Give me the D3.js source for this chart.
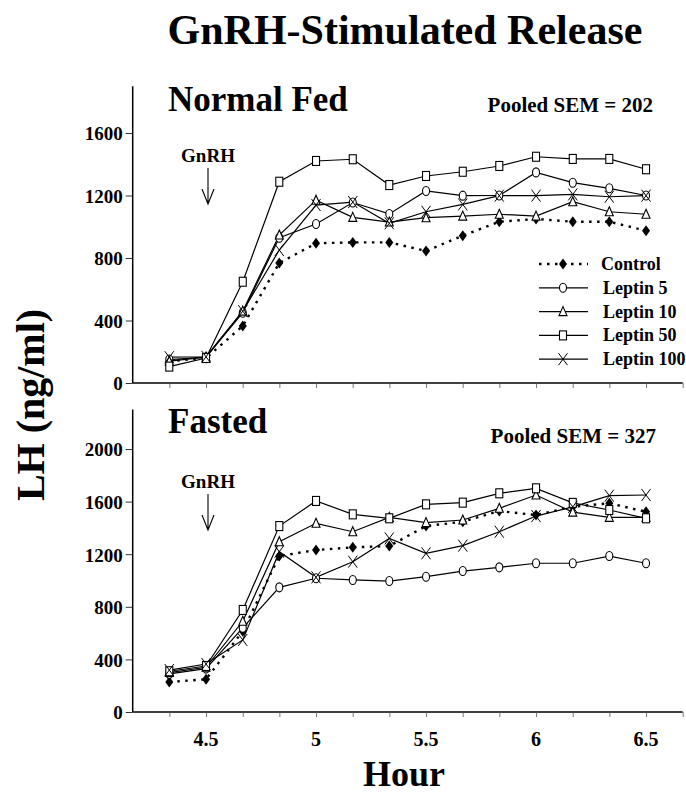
<!DOCTYPE html>
<html>
<head>
<meta charset="utf-8">
<script src="https://cdn.jsdelivr.net/npm/d3@7"></script>
<style>
  body { margin: 0; background: #fff; }
  text { font-family: "Liberation Serif", "Times New Roman", serif; font-weight: bold; fill: #000; }
</style>
</head>
<body>
<div id="chart"></div>
<script>
// sampling times (hours)
const hours = [4.333, 4.5, 4.667, 4.833, 5, 5.167, 5.333, 5.5, 5.667, 5.833, 6, 6.167, 6.333, 6.5];
const hourTicks = [4.5, 5, 5.5, 6, 6.5];
const seriesNames = ["Control", "Leptin 5", "Leptin 10", "Leptin 50", "Leptin 100"];

// Normal fed, LH ng/ml
const fedControl = [140, 160, 365, 768, 894, 900, 900, 845, 943, 1032, 1050, 1032, 1032, 975];
const fedLep5    = [150, 165, 450, 930, 1018, 1155, 1082, 1229, 1199, 1200, 1348, 1282, 1246, 1200];
const fedLep10   = [140, 165, 460, 947, 1170, 1060, 1030, 1058, 1068, 1080, 1068, 1160, 1096, 1080];
const fedLep50   = [105, 160, 648, 1288, 1421, 1432, 1267, 1325, 1352, 1389, 1448, 1434, 1434, 1368];
const fedLep100  = [165, 168, 460, 851, 1139, 1158, 1022, 1096, 1143, 1199, 1199, 1207, 1192, 1199];
const fedTicks = [0, 400, 800, 1200, 1600];

// Fasted, LH ng/ml
const fastControl = [228, 249, 615, 1186, 1232, 1252, 1262, 1414, 1447, 1528, 1498, 1561, 1587, 1523];
const fastLep5    = [290, 330, 640, 948, 1017, 1004, 996, 1029, 1072, 1100, 1131, 1131, 1186, 1131];
const fastLep10   = [300, 340, 690, 1295, 1435, 1371, 1480, 1440, 1460, 1549, 1650, 1520, 1480, 1480];
const fastLep50   = [310, 350, 776, 1414, 1605, 1503, 1473, 1579, 1592, 1663, 1701, 1590, 1536, 1473];
const fastLep100  = [319, 365, 548, 1219, 1024, 1143, 1320, 1207, 1265, 1371, 1490, 1560, 1645, 1650];
const fastTicks = [0, 400, 800, 1200, 1600, 2000];

const W = 686, H = 793;
const svg = d3.select("#chart").append("svg").attr("width", W).attr("height", H);

const x = d3.scaleLinear().domain([25 / 6, 40 / 6]).range([132.7, 682.7]);
const minorTicks = d3.range(26, 41).map(d => d / 6);

const markerTypes = ["diamond", "circle", "triangle", "square", "x"];

function drawMarker(g, type, cx, cy) {
    if (type == "diamond") {
        g.append("path").attr("d", `M${cx},${cy - 5.5}L${cx + 4},${cy}L${cx},${cy + 5.5}L${cx - 4},${cy}Z`)
            .attr("fill", "#000");
    } else if (type == "circle") {
        g.append("ellipse").attr("cx", cx).attr("cy", cy).attr("rx", 3.5).attr("ry", 4.5)
            .attr("fill", "#fff").attr("stroke", "#000").attr("stroke-width", 1.1);
    } else if (type == "triangle") {
        g.append("path").attr("d", `M${cx},${cy - 5}L${cx + 4},${cy + 4}L${cx - 4},${cy + 4}Z`)
            .attr("fill", "#fff").attr("stroke", "#000").attr("stroke-width", 1.1);
    } else if (type == "square") {
        g.append("rect").attr("x", cx - 3.5).attr("y", cy - 4.5).attr("width", 7).attr("height", 9)
            .attr("fill", "#fff").attr("stroke", "#000").attr("stroke-width", 1.1);
    } else {
        g.append("path").attr("d", `M${cx - 4.5},${cy - 6}L${cx + 4.5},${cy + 6}M${cx + 4.5},${cy - 6}L${cx - 4.5},${cy + 6}`)
            .attr("stroke", "#000").attr("stroke-width", 1);
    }
}

function lineStyle(sel, i) {
    sel.attr("fill", "none").attr("stroke", "#000");
    if (i == 0) sel.attr("stroke-width", 2.4).attr("stroke-dasharray", "2.5,5.5");
    else sel.attr("stroke-width", 1.2);
}

function drawPanel(p) {
    const y = d3.scaleLinear().domain([0, p.ymax]).range([p.y0, p.y0 - p.ymax * p.k]);
    const g = svg.append("g");

    // axes
    g.append("g").attr("transform", `translate(${x.range()[0]},0)`)
        .call(d3.axisLeft(y).tickValues(p.ticks).tickSize(7).tickFormat(d3.format("d")))
        .call(a => a.select(".domain").attr("stroke-width", 1.5).attr("d", `M-0,${p.y0}V${y.range()[1]}`))
        .call(a => a.selectAll(".tick line").attr("stroke-width", 0.8))
        .call(a => a.selectAll(".tick text").attr("x", -10).attr("dy", "0.36em")
            .style("font-size", "19px").style("font-family", "Liberation Serif").style("font-weight", "bold"));

    g.append("g").attr("transform", `translate(0,${p.y0})`)
        .call(d3.axisBottom(x).tickValues(minorTicks).tickSize(5).tickFormat(""))
        .call(a => a.select(".domain").attr("stroke-width", 1.5).attr("d", `M${x.range()[0]},0H${x.range()[1]}`))
        .call(a => a.selectAll(".tick line").attr("stroke", "#555").attr("stroke-width", 0.8));

    if (p.labels) {
        g.append("g").selectAll("text").data(hourTicks).join("text")
            .attr("x", d => x(d)).attr("y", p.y0 + 34)
            .attr("text-anchor", "middle").style("font-size", "20px")
            .text(d => d);
    }

    // lines then markers
    const line = d3.line().x((d, i) => x(hours[i])).y(d => y(d));
    p.series.forEach((s, i) => {
        g.append("path").datum(s).attr("d", line).call(lineStyle, i);
    });
    p.series.forEach((s, i) => {
        const mg = g.append("g");
        s.forEach((v, j) => drawMarker(mg, markerTypes[i], x(hours[j]), y(v)));
    });

    // labels
    g.append("text").attr("x", 168).attr("y", p.titleY).style("font-size", "35px").text(p.title);
    g.append("text").attr("x", p.semX).attr("y", p.semY).attr("text-anchor", "end")
        .style("font-size", "21px").text(p.sem);
    g.append("text").attr("x", 208).attr("y", p.gnrhY).attr("text-anchor", "middle")
        .style("font-size", "19px").text("GnRH");
    const ay = p.gnrhY + 6;
    g.append("path")
        .attr("d", `M208,${ay}V${ay + 36}M202,${ay + 21}L208,${ay + 36}L214,${ay + 21}`)
        .attr("fill", "none").attr("stroke", "#000").attr("stroke-width", 1.1);
}

drawPanel({
    y0: 383, k: 0.15625, ymax: 1900, ticks: fedTicks,
    series: [fedControl, fedLep5, fedLep10, fedLep50, fedLep100],
    title: "Normal Fed", titleY: 111, sem: "Pooled SEM = 202", semX: 653, semY: 112, gnrhY: 162,
    labels: false
});
drawPanel({
    y0: 712, k: 0.1315, ymax: 2300, ticks: fastTicks,
    series: [fastControl, fastLep5, fastLep10, fastLep50, fastLep100],
    title: "Fasted", titleY: 433, sem: "Pooled SEM = 327", semX: 656, semY: 443, gnrhY: 488,
    labels: true
});

// legend
const legend = svg.append("g");
seriesNames.forEach((name, i) => {
    const ly = 264 + i * 23.8;
    legend.append("path").attr("d", `M539,${ly}H588`).call(lineStyle, i);
    drawMarker(legend, markerTypes[i], 563, ly);
    legend.append("text").attr("x", i == 0 ? 601 : 603).attr("y", ly + 6)
        .style("font-size", "18px").text(name);
});

// titles
svg.append("text").attr("x", 405).attr("y", 44).attr("text-anchor", "middle")
    .style("font-size", "42px").text("GnRH-Stimulated Release");
svg.append("text").attr("x", 404).attr("y", 786).attr("text-anchor", "middle")
    .style("font-size", "36px").text("Hour");
svg.append("text").attr("transform", "translate(44,405) rotate(-90)").attr("text-anchor", "middle")
    .style("font-size", "40px").text("LH (ng/ml)");
</script>
</body>
</html>
